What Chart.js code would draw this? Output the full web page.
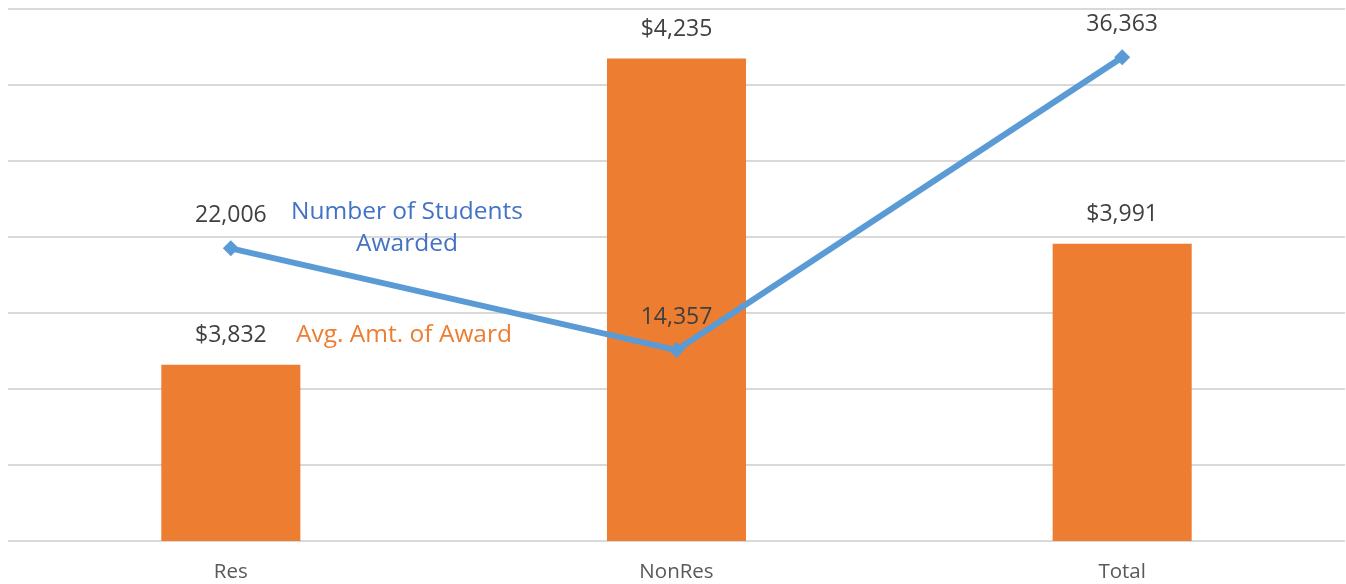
<!DOCTYPE html>
<html>
<head>
<meta charset="utf-8">
<script src="https://cdn.jsdelivr.net/npm/chart.js@4"></script>
<style>
  body { margin: 0; background: #fff; }
  #wrap { width: 1346px; height: 584px; }
</style>
</head>
<body>
<div id="wrap"><canvas id="grafico"></canvas></div>
<script>
// datos del gráfico
const categorias = ['Res', 'NonRes', 'Total'];
const montoPromedio = [3832, 4235, 3991];
const numEstudiantes = [22006, 14357, 36363];

const naranja = '#ED7D31';
const azul = '#5B9BD5';
const fuente = "'Open Sans', 'Noto Sans', sans-serif";

// etiquetas de datos encima de barras y puntos
const etiquetasPlugin = {
    id: 'etiquetas',
    afterDatasetsDraw(chart) {
        const ctx = chart.ctx;
        ctx.save();
        ctx.font = '23px ' + fuente;
        ctx.fillStyle = '#404040';
        ctx.textAlign = 'center';
        ctx.textBaseline = 'middle';
        chart.data.datasets.forEach((ds, i) => {
            const meta = chart.getDatasetMeta(i);
            meta.data.forEach((el, j) => {
                const v = ds.data[j];
                const txt = ds.type === 'bar' ? '$' + v.toLocaleString('en-US') : v.toLocaleString('en-US');
                const off = ds.type === 'bar' ? 29 : 33;
                ctx.fillText(txt, el.x, el.y - off);
            });
        });

        // nombres de las series junto a la primera categoría
        ctx.font = '24.5px ' + fuente;
        ctx.fillStyle = '#4472C4';
        ctx.fillText('Number of Students', 407, 212);
        ctx.fillText('Awarded', 407, 244);
        ctx.fillStyle = naranja;
        ctx.fillText('Avg. Amt. of Award', 404, 335);
        ctx.restore();
    }
};

new Chart(document.getElementById('grafico'), {
    data: {
        labels: categorias,
        datasets: [
            {
                type: 'line',
                label: 'Number of Students Awarded',
                data: numEstudiantes,
                yAxisID: 'y1',
                borderColor: azul,
                backgroundColor: azul,
                borderWidth: 6,
                pointStyle: 'rectRot',
                pointRadius: 8,
                pointBorderWidth: 0,
                order: 0
            },
            {
                type: 'bar',
                label: 'Avg. Amt. of Award',
                data: montoPromedio,
                yAxisID: 'y',
                backgroundColor: naranja,
                barPercentage: 0.312,
                categoryPercentage: 1,
                order: 1
            }
        ]
    },
    options: {
        responsive: true,
        maintainAspectRatio: false,
        animation: false,
        layout: { autoPadding: false, padding: { left: 8, right: 1, top: 9, bottom: 2 } },
        plugins: {
            legend: { display: false },
            tooltip: { enabled: false }
        },
        scales: {
            x: {
                grid: { display: false, drawTicks: false },
                border: { display: false },
                ticks: { color: '#595959', font: { family: fuente, size: 20.5 }, padding: 19 },
                afterFit: (scale) => { scale.height = 41; }
            },
            y: {
                min: 3600,
                max: 4300,
                ticks: { display: false, stepSize: 100 },
                grid: { color: '#d9d9d9', lineWidth: 2, drawTicks: false },
                border: { display: false }
            },
            y1: {
                display: false,
                position: 'right',
                min: 0,
                max: 40000
            }
        }
    },
    plugins: [etiquetasPlugin]
});
</script>
</body>
</html>
